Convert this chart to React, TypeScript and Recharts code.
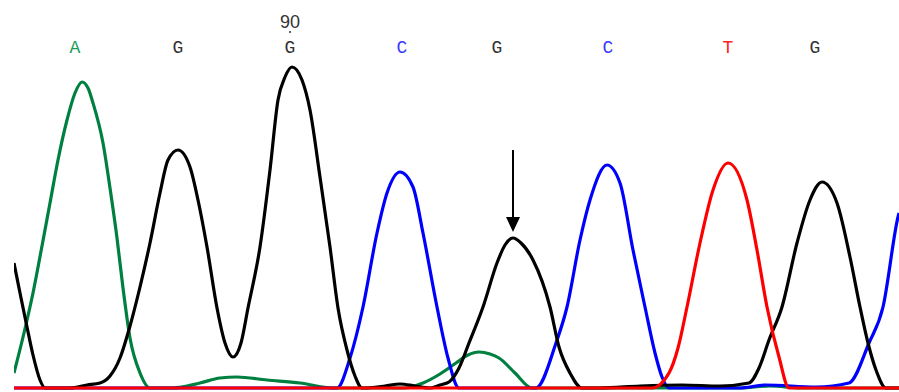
import { LineChart, Line, XAxis, YAxis, ReferenceDot, ReferenceLine } from 'recharts';

interface TracePoint {
  x: number;
  h: number;
}

// trace intensity (height above baseline) at scan positions
const greenA: TracePoint[] = [
  [14, 15], [24, 55], [33, 95], [42, 142], [50, 185], [58, 228], [67, 268], [75, 295], [82, 306],
  [88, 300], [93, 285], [103, 245], [110, 200], [117, 150], [123, 100], [130, 50], [140, 15], [150, 0],
  [173, 0], [200, 5], [220, 10], [237, 11], [267, 8], [300, 5], [333, 0], [405, 0], [423, 5], [440, 14],
  [456, 25], [468, 33], [479, 36], [490, 34], [499, 30], [515, 15], [532, 0], [740, 0], [770, 2],
  [800, 0], [899, 0],
].map(([x, h]) => ({ x, h }));

const blackG: TracePoint[] = [
  [14, 125], [20, 95], [27, 61], [33, 33], [40, 8], [45, 0], [70, 0], [87, 3], [100, 5], [110, 12],
  [120, 30], [130, 62], [140, 101], [150, 145], [160, 195], [168, 228], [178, 238], [190, 221],
  [198, 188], [207, 141], [217, 80], [225, 45], [233, 31], [241, 45], [248, 80], [260, 141], [270, 218],
  [278, 288], [285, 311], [292, 321], [302, 308], [310, 278], [320, 211], [330, 141], [338, 80],
  [347, 38], [355, 12], [362, 0], [385, 2], [400, 4], [415, 2], [430, 0], [440, 3], [449, 6], [459, 20],
  [469, 45], [483, 81], [497, 125], [505, 143], [513, 150], [521, 145], [533, 128], [550, 81],
  [559, 41], [570, 15], [582, 0], [600, 0], [640, 2], [682, 3], [720, 2], [749, 5], [759, 20],
  [769, 48], [782, 81], [797, 145], [810, 188], [822, 206], [837, 185], [850, 131], [860, 81],
  [868, 45], [876, 18], [886, 0], [899, 0],
].map(([x, h]) => ({ x, h }));

const blueC: TracePoint[] = [
  [14, 0], [337, 0], [350, 30], [363, 81], [377, 155], [387, 195], [400, 216], [413, 201], [423, 155],
  [437, 81], [448, 30], [459, 0], [536, 0], [556, 45], [567, 81], [580, 148], [590, 188], [607, 223],
  [620, 205], [633, 138], [645, 81], [655, 35], [662, 11], [669, 0], [739, 0], [766, 3], [816, 1],
  [849, 5], [869, 45], [883, 81], [898, 171], [899, 175],
].map(([x, h]) => ({ x, h }));

const redT: TracePoint[] = [
  [14, 0], [652, 0], [669, 15], [678, 40], [687, 81], [700, 145], [713, 198], [728, 225], [747, 188],
  [757, 138], [767, 81], [779, 31], [789, 0], [899, 0],
].map(([x, h]) => ({ x, h }));

const baseCalls = ['A', 'G', 'G', 'C', 'G', 'C', 'T', 'G'];
const basePositions = [75, 178, 290, 402, 497, 608, 728, 815];
const positionMark = { label: '90', x: 290 };
const arrowAt = { x: 513, from: 238, to: 171, tip: 163.5 };

const baseColor: Record<string, string> = {
  A: '#008040',
  C: '#0000ff',
  G: '#000000',
  T: '#ff0000',
};

const labelColor: Record<string, string> = {
  A: '#1a9a5a',
  C: '#3a3aff',
  G: '#333333',
  T: '#ff2020',
};

export default function App() {
  return (
    <div style={{ position: 'absolute', left: 0, top: 0, background: '#fff' }}>
      <LineChart width={899} height={392} margin={{ top: 0, right: 0, left: 14, bottom: 4 }}>
        <XAxis type="number" dataKey="x" domain={[14, 899]} hide allowDataOverflow />
        <YAxis type="number" domain={[0, 388]} hide />
        <Line data={greenA} dataKey="h" type="monotone" stroke={baseColor.A} strokeWidth={3.2} dot={false} isAnimationActive={false} />
        <Line data={blueC} dataKey="h" type="monotone" stroke={baseColor.C} strokeWidth={3.2} dot={false} isAnimationActive={false} />
        <Line data={blackG} dataKey="h" type="monotone" stroke={baseColor.G} strokeWidth={3.2} dot={false} isAnimationActive={false} />
        <Line data={redT} dataKey="h" type="monotone" stroke={baseColor.T} strokeWidth={3.2} dot={false} isAnimationActive={false} />
        {baseCalls.map((b, i) => (
          <ReferenceDot
            key={i}
            x={basePositions[i]}
            y={342}
            ifOverflow="visible"
            shape={(p: any) => (
              <text x={p.cx} y={p.cy + 7} textAnchor="middle" fontFamily="Liberation Mono, monospace" fontSize={18} fill={labelColor[b]}>
                {b}
              </text>
            )}
          />
        ))}
        <ReferenceDot
          x={positionMark.x}
          y={360}
          ifOverflow="visible"
          shape={(p: any) => (
            <g>
              <text x={p.cx} y={p.cy - 0} textAnchor="middle" fontFamily="Liberation Sans, Arial, sans-serif" fontSize={18} fill="#333">
                {positionMark.label}
              </text>
              <circle cx={p.cx} cy={p.cy + 4} r={1} fill="#333" />
            </g>
          )}
        />
        <ReferenceLine
          segment={[{ x: arrowAt.x, y: arrowAt.from }, { x: arrowAt.x, y: arrowAt.to }]}
          stroke="#000"
          strokeWidth={2}
          ifOverflow="visible"
        />
        <ReferenceDot
          x={arrowAt.x}
          y={arrowAt.tip}
          ifOverflow="visible"
          shape={(p: any) => (
            <polygon points={`${p.cx - 7},${p.cy - 7.5} ${p.cx + 7},${p.cy - 7.5} ${p.cx},${p.cy + 7.5}`} fill="#000" />
          )}
        />
      </LineChart>
    </div>
  );
}
